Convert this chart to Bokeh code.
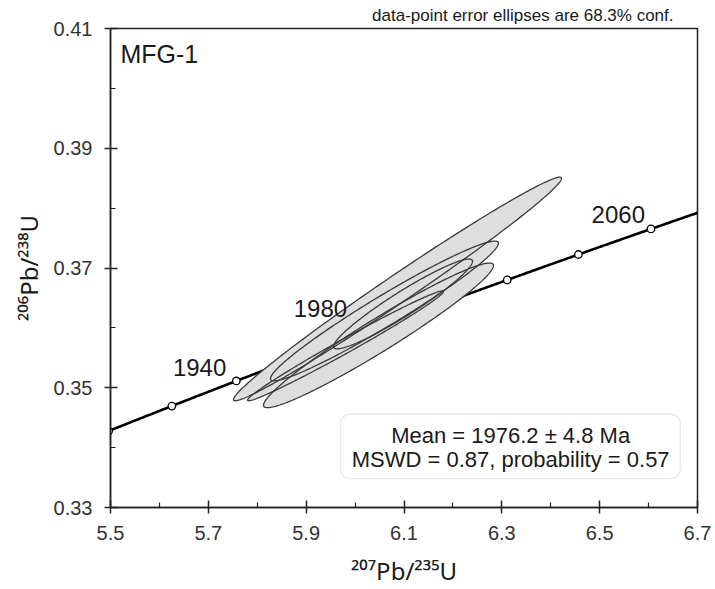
import numpy as np
from bokeh.plotting import figure
from bokeh.models import Range1d, Label, BoxAnnotation, FixedTicker, ColumnDataSource
from bokeh.core.properties import value
from bokeh.embed import file_html
from bokeh.resources import INLINE

# ---------------- data ----------------
# error ellipses: centre (207Pb/235U, 206Pb/238U), half-extents and error correlation
ell_x = [6.0867, 6.0601, 6.0980, 6.0479, 5.9804]
ell_y = [0.3665, 0.36283, 0.3640, 0.35875, 0.3570]
ell_sx = [0.3353, 0.2330, 0.1421, 0.2351, 0.2003]
ell_sy = [0.01867, 0.01167, 0.0075, 0.01208, 0.00917]
ell_rho = [0.989, 0.968, 0.948, 0.965, 0.989]

# concordia age markers (Ma) and labelled ages
marker_ages = [1900, 1920, 1940, 1960, 1980, 2000, 2020, 2040, 2060, 2080]
label_ages = [1940, 1980, 2060]

x_ticks = [5.5, 5.7, 5.9, 6.1, 6.3, 6.5, 6.7]
x_minor = [5.6, 5.8, 6.0, 6.2, 6.4, 6.6]
y_ticks = [0.33, 0.35, 0.37, 0.39, 0.41]
y_minor = [0.34, 0.36, 0.38, 0.40]

sample_name = "MFG-1"
mean_age = 1976.2
mean_err = 4.8
mswd = 0.87
prob = 0.57

# decay constants (per Ma)
L238 = 1.55125e-4
L235 = 9.8485e-4

# ---------------- styling ----------------
FONT = "Liberation Sans"
LABFONT = "Noto Sans"
label_off_x = [-10, -22, -6]
label_off_y = [-13, -22, -14]

p = figure(width=715, height=589, x_range=Range1d(5.5, 6.7), y_range=Range1d(0.33, 0.41),
           output_backend="svg", toolbar_location=None,
           min_border_left=110, min_border_right=18, min_border_top=27, min_border_bottom=82)
p.grid.visible = False
p.outline_line_color = "#222222"
p.outline_line_width = 1.5
p.background_fill_color = "white"

p.title.text = "data-point error ellipses are 68.3% conf."
p.title.align = "right"
p.title.text_font = FONT
p.title.text_font_size = "17px"
p.title.text_font_style = "normal"
p.title.text_color = "#1a1a1a"
p.title.offset = 24
p.title.standoff = 7

# concordia curve
t = np.linspace(1880, 2090, 400)
p.line(np.exp(L235 * t) - 1, np.exp(L238 * t) - 1, line_color="black", line_width=2.6)
ma = np.array(marker_ages, dtype=float)
p.scatter(np.exp(L235 * ma) - 1, np.exp(L238 * ma) - 1, size=7.5, marker="circle",
          fill_color="white", line_color="black", line_width=1.3)

# error ellipses
theta = np.linspace(0, 2 * np.pi, 240)
xs, ys = [], []
for cx, cy, sx, sy, r in zip(ell_x, ell_y, ell_sx, ell_sy, ell_rho):
    xs.append(cx + sx * np.cos(theta))
    ys.append(cy + sy * (r * np.cos(theta) + np.sqrt(1 - r * r) * np.sin(theta)))
p.patches(xs, ys, fill_color="#dedede", line_color=None)
p.patches(xs, ys, fill_color=None, line_color="#3a3a3a", line_width=1.3)

la = np.array(label_ages, dtype=float)
lsrc = ColumnDataSource(dict(x=np.exp(L235 * la) - 1, y=np.exp(L238 * la) - 1,
                             text=[str(a) for a in label_ages],
                             xo=label_off_x, yo=label_off_y))
p.text(x="x", y="y", text="text", x_offset="xo", y_offset="yo", source=lsrc,
       text_font=value(FONT), text_font_size="24px", text_color="#1a1a1a",
       text_align="right", text_baseline="alphabetic")

# axes
p.xaxis.ticker = FixedTicker(ticks=x_ticks, minor_ticks=x_minor)
p.yaxis.ticker = FixedTicker(ticks=y_ticks, minor_ticks=y_minor)
p.xaxis.major_label_overrides = {v: f"{v:.1f}" for v in x_ticks}
p.yaxis.major_label_overrides = {v: f"{v:.2f}" for v in y_ticks}
for ax in (p.xaxis, p.yaxis):
    ax.axis_line_color = "#222222"
    ax.axis_line_width = 1.5
    ax.major_tick_line_color = "#222222"
    ax.major_tick_line_width = 1.5
    ax.minor_tick_line_color = "#222222"
    ax.minor_tick_line_width = 1.2
    ax.major_tick_in = 7
    ax.major_tick_out = 6
    ax.minor_tick_in = 5
    ax.minor_tick_out = 0
    ax.major_label_text_font = FONT
    ax.major_label_text_font_size = "20px"
    ax.major_label_text_color = "#333333"
    ax.axis_label_text_font = LABFONT
    ax.axis_label_text_font_size = "24px"
    ax.axis_label_text_font_style = "normal"
    ax.axis_label_text_color = "#1a1a1a"
p.xaxis.axis_label = "²⁰⁷Pb/²³⁵U"
p.yaxis.axis_label = "²⁰⁶Pb/²³⁸U"
p.xaxis.major_label_standoff = 12
p.yaxis.major_label_standoff = 12
p.xaxis.axis_label_standoff = 11
p.yaxis.axis_label_standoff = 6

# annotations
p.add_layout(Label(x=5.5, y=0.41, x_offset=10, y_offset=-11, text=sample_name,
                   text_font=FONT, text_font_size="25px", text_color="#1a1a1a",
                   text_baseline="top"))

p.add_layout(BoxAnnotation(left=5.970, right=6.665, bottom=0.3348, top=0.3456,
                           fill_color="white", fill_alpha=1.0, line_color="#b0b0b0",
                           line_width=1.2, border_radius=10, level="overlay"))
p.add_layout(Label(x=6.318, y=0.3421, text=f"Mean = {mean_age} ± {mean_err} Ma",
                   text_font=FONT, text_font_size="22px", text_color="#1a1a1a",
                   text_align="center", text_baseline="middle", level="overlay"))
p.add_layout(Label(x=6.318, y=0.3380, text=f"MSWD = {mswd}, probability = {prob}",
                   text_font=FONT, text_font_size="22px", text_color="#1a1a1a",
                   text_align="center", text_baseline="middle", level="overlay"))

open("out.html", "w").write(file_html(p, INLINE))
